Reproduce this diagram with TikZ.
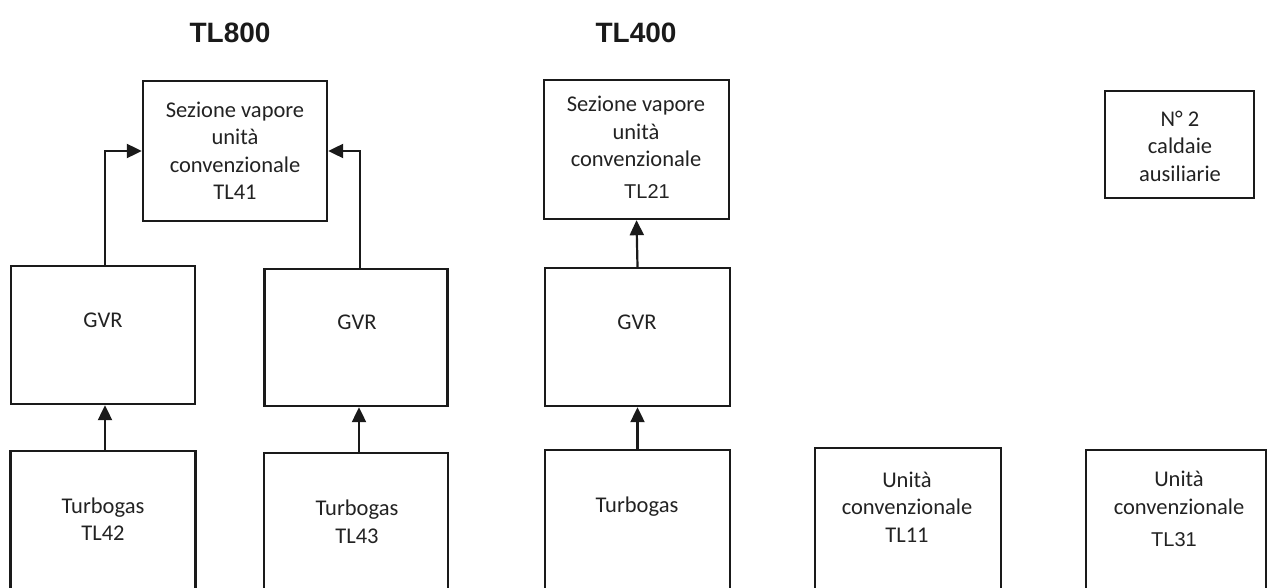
\documentclass[tikz,border=0pt]{standalone}
\usepackage{fontspec}
\setmainfont{Carlito}
\newfontfamily\arialf{Liberation Sans}
\usetikzlibrary{arrows.meta}
\definecolor{ink}{HTML}{1A1A1A}
\definecolor{txt}{HTML}{222222}
\tikzset{
  blk/.style={draw=ink, line width=2.4pt, minimum width=#1, inner sep=0pt},
  lbl/.style={text=txt, align=center, font=\fontsize{22.5}{27.5}\selectfont, inner sep=0pt},
  albl/.style={text=txt, align=center, font=\arialf\fontsize{20}{24}\selectfont, inner sep=0pt},
  ttl/.style={text=ink, font=\arialf\bfseries\fontsize{28}{32}\selectfont, inner sep=0pt},
  arr/.style={draw=ink, line width=2.2pt, -{Triangle[length=15pt,width=14pt]}}
}
\begin{document}
\begin{tikzpicture}[x=1pt,y=-1pt]
\useasboundingbox (0,0) rectangle (1268,588);
\clip (0,0) rectangle (1268,588);
% titles
\node[ttl] (t800) at (230,33) {TL800};
\node[ttl] (t400) at (636,33) {TL400};
% boxes
\node[blk=184pt, minimum height=140pt] (sez1) at (235,151) {};
\node[blk=185pt, minimum height=139pt] (sez2) at (636.5,149.5) {};
\node[blk=149pt, minimum height=107pt] (cald) at (1179.5,144.5) {};
\node[blk=184pt, minimum height=138pt] (gvr1) at (103,335) {};
\node[blk=183pt, minimum height=137pt] (gvr2) at (356,337.5) {};
\node[blk=185pt, minimum height=138pt] (gvr3) at (637.5,337) {};
\node[blk=185pt, minimum height=149pt] (tg1) at (103,525.5) {};
\node[blk=184pt, minimum height=147pt] (tg2) at (356,526.5) {};
\node[blk=185pt, minimum height=150pt] (tg3) at (637.5,525) {};
\node[blk=186pt, minimum height=152pt] (u11) at (908,524) {};
\node[blk=180pt, minimum height=150pt] (u31) at (1176,525) {};
% texts
\node[lbl] (s1txt) at (235,151) {Sezione vapore\\unità\\convenzionale\\TL41};
\begin{scope}
\clip (550,85) rectangle (725,167);
\node[lbl, anchor=north] (s2txt) at (636,96) {Sezione vapore\\unità\\convenzionale};
\end{scope}
\node[albl] (s2code) at (647,192) {TL21};
\node[lbl] (cldtxt) at (1180,146) {N° 2\\caldaie\\ausiliarie};
\node[lbl] (g1txt) at (103,320) {GVR};
\node[lbl] (g2txt) at (357,322) {GVR};
\node[lbl] (g3txt) at (637,322) {GVR};
\node[lbl] (tg1txt) at (103,519) {Turbogas\\TL42};
\node[lbl] (tg2txt) at (357,522) {Turbogas\\TL43};
\node[lbl] (tg3txt) at (637,507) {Turbogas};
\node[lbl] (u11txt) at (907,507) {Unità\\convenzionale\\TL11};
\node[lbl] (u31txt) at (1179,493) {Unità\\convenzionale};
\node[albl] (u31code) at (1174,540) {TL31};
% connectors
\draw[arr] ([xshift=2pt]gvr1.north) |- (sez1.west);
\draw[arr] ([xshift=4pt]gvr2.north) |- (sez1.east);
\draw[arr] ([xshift=2pt]tg1.north) -- ([xshift=2pt]gvr1.south);
\draw[arr] ([xshift=3pt]tg2.north) -- ([xshift=3pt]gvr2.south);
\draw[arr] (tg3.north) -- (gvr3.south);
\draw[arr] (gvr3.north) -- (sez2.south);
\end{tikzpicture}
\end{document}
